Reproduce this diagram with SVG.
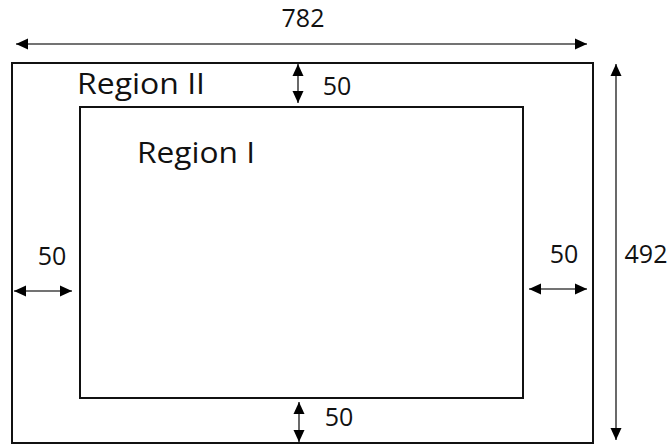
<svg xmlns="http://www.w3.org/2000/svg" width="669" height="445" viewBox="0 0 669 445">
<style>
.box{fill:none;stroke:#111;stroke-width:2}
.dim{stroke:#444;stroke-width:1.6;fill:none;marker-start:url(#ah);marker-end:url(#ah)}
.num{font-family:"Open Sans","Liberation Sans",Arial,sans-serif;font-size:25px;fill:#111}
.lab{font-family:"Open Sans","Liberation Sans",Arial,sans-serif;font-size:29px;fill:#111}
</style>
<defs>
<marker id="ah" markerUnits="userSpaceOnUse" markerWidth="12" markerHeight="12" viewBox="0 0 12 12" refX="12" refY="6" orient="auto-start-reverse">
<path d="M0,0.5 L12,6 L0,11.5 Z" fill="#000"/>
</marker>
</defs>
<rect width="669" height="445" fill="#fff"/>
<g id="region2">
<rect class="box" x="12" y="63" width="581" height="380"/>
<text class="lab" x="77" y="94" textLength="128" lengthAdjust="spacingAndGlyphs">Region II</text>
</g>
<g id="region1">
<rect class="box" x="80" y="107" width="443" height="291"/>
<text class="lab" x="137" y="163" textLength="118" lengthAdjust="spacingAndGlyphs">Region I</text>
</g>
<g id="connectors">
<line class="dim" x1="16" y1="44" x2="587" y2="44"/>
<line class="dim" x1="616" y1="64" x2="616" y2="440"/>
<line class="dim" x1="298" y1="64" x2="298" y2="103"/>
<line class="dim" x1="299" y1="402" x2="299" y2="442"/>
<line class="dim" x1="14" y1="291" x2="72" y2="291"/>
<line class="dim" x1="529" y1="289" x2="587" y2="289"/>
</g>
<g id="labels">
<text class="num" x="303" y="27" text-anchor="middle">782</text>
<text class="num" x="337" y="95" text-anchor="middle">50</text>
<text class="num" x="339" y="426" text-anchor="middle">50</text>
<text class="num" x="52" y="265" text-anchor="middle">50</text>
<text class="num" x="564" y="263" text-anchor="middle">50</text>
<text class="num" x="646" y="263" text-anchor="middle">492</text>
</g>
</svg>
